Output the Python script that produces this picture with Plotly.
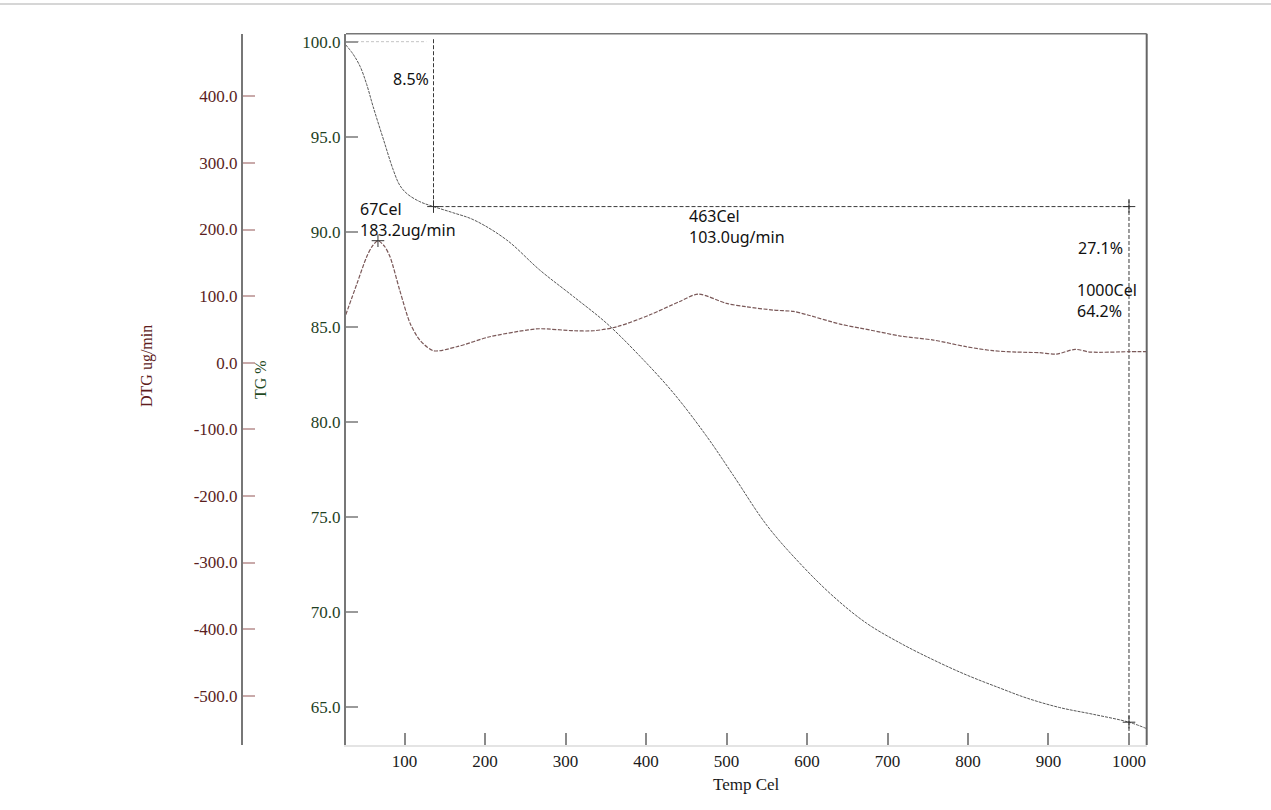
import plotly.graph_objects as go

# ---------------- data ----------------
temp_tg = [27, 36, 45, 53, 61, 74, 86, 94, 103, 119, 136, 160, 186, 227, 268, 310, 351, 393,
           434, 475, 508, 550, 591, 633, 674, 716, 757, 798, 840, 873, 914, 955, 1000, 1021]
tg = [99.83, 99.35, 98.68, 97.75, 96.58, 94.83, 93.25, 92.45, 92.0, 91.58, 91.32, 91.0,
      90.62, 89.56, 87.98, 86.58, 85.18, 83.42, 81.51, 79.25, 77.2, 74.55, 72.55, 70.79,
      69.39, 68.34, 67.46, 66.67, 65.97, 65.45, 64.95, 64.6, 64.18, 63.86]

temp_dtg = [27, 41, 53, 60, 67, 75, 82, 94, 107, 119, 136, 165, 206, 252, 268, 310, 335,
            364, 405, 442, 465, 500, 525, 558, 583, 600, 641, 666, 691, 716, 757, 798, 831,
            860, 889, 910, 933, 952, 1000, 1022]
dtg = [72, 119, 159, 175, 183, 175, 159, 109, 59, 34, 18, 24, 39, 49, 51, 48, 48,
       54, 72, 92, 103, 89, 84, 79, 77, 72, 58, 52, 46, 40, 34, 24, 18,
       16, 15, 13, 20, 16, 16.5, 16.5]

x_ticks = [100, 200, 300, 400, 500, 600, 700, 800, 900, 1000]
tg_ticks = [65, 70, 75, 80, 85, 90, 95, 100]
dtg_ticks = [-500, -400, -300, -200, -100, 0, 100, 200, 300, 400]

# analysis markers (values shown in the chart)
step_T, step_TG, step_loss = 136, 91.32, "8.5%"
end_T, end_TG, end_loss = 1000, 64.18, "27.1%"
peak1_T, peak1_val = 67, 183.2
peak2_T, peak2_val = 463, 103.0

# ---------------- layout geometry ----------------
W, H = 1271, 810
L, R, T, B = 346, 1146.7, 33.7, 745
x_range = [27.3, 1022]
tg_range = [62.98, 100.42]
dtg_range = [-574, 494]

serif = "Liberation Serif"
sans = "Noto Sans"

fig = go.Figure()

# TG curve
fig.add_trace(go.Scatter(x=temp_tg, y=tg, mode="lines", yaxis="y",
                         line=dict(color="#585858", width=1, dash="3px,1px",
                                   shape="spline", smoothing=1.0)))
# DTG curve
fig.add_trace(go.Scatter(x=temp_dtg, y=dtg, mode="lines", yaxis="y2",
                         line=dict(color="#7a5858", width=1.2, dash="4px,1.5px",
                                   shape="spline", smoothing=0.8)))

# 100 % reference line (light dotted)
fig.add_trace(go.Scatter(x=[x_range[0], 127], y=[100, 100], mode="lines", yaxis="y",
                         line=dict(color="#c4c4c4", width=1, dash="3px,2px")))
# step lines (dashed)
dash_style = dict(color="#3a3a3a", width=1, dash="4px,2px")
fig.add_trace(go.Scatter(x=[step_T, step_T], y=[100.13, step_TG], mode="lines", yaxis="y",
                         line=dash_style))
fig.add_trace(go.Scatter(x=[step_T, end_T + 2], y=[step_TG, step_TG], mode="lines", yaxis="y",
                         line=dash_style))
fig.add_trace(go.Scatter(x=[end_T, end_T], y=[step_TG + 0.4, tg_range[0]], mode="lines",
                         yaxis="y", line=dash_style))
# cross markers
fig.add_trace(go.Scatter(x=[step_T, end_T, end_T], y=[step_TG, step_TG, end_TG],
                         mode="markers", yaxis="y",
                         marker=dict(symbol="cross-thin", size=9,
                                     line=dict(color="#333", width=1))))
fig.add_trace(go.Scatter(x=[peak1_T], y=[peak1_val], mode="markers", yaxis="y2",
                         marker=dict(symbol="cross-thin", size=9,
                                     line=dict(color="#333", width=1))))

ann_font = dict(family=sans, size=16, color="#111")
annotations = [
    dict(x=132.9, y=98.05, xref="x", yref="y", text=step_loss, showarrow=False,
         xanchor="right", yanchor="middle", font=ann_font),
    dict(x=42.6, y=90.65, xref="x", yref="y",
         text=f"{peak1_T}Cel<br>{peak1_val:.1f}ug/min", showarrow=False,
         xanchor="left", yanchor="middle", align="left", font=ann_font),
    dict(x=450.6, y=90.26, xref="x", yref="y",
         text=f"{peak2_T}Cel<br>{peak2_val:.1f}ug/min", showarrow=False,
         xanchor="left", yanchor="middle", align="left", font=ann_font),
    dict(x=995, y=89.14, xref="x", yref="y", text=end_loss, showarrow=False,
         xanchor="right", yanchor="middle", font=ann_font),
    dict(x=933, y=86.39, xref="x", yref="y",
         text=f"{end_T}Cel<br>{end_TG:.1f}%", showarrow=False,
         xanchor="left", yanchor="middle", align="left", font=ann_font),
    # axis titles
    dict(x=147 / W, y=1 - 366 / H, xref="paper", yref="paper", text="DTG ug/min",
         textangle=-90, showarrow=False, xanchor="center", yanchor="middle",
         font=dict(family=serif, size=16, color="#5e1c1c")),
    dict(x=260 / W, y=1 - 380 / H, xref="paper", yref="paper", text="TG %",
         textangle=-90, showarrow=False, xanchor="center", yanchor="middle",
         font=dict(family=serif, size=16, color="#1f4a1f")),
    dict(x=(L + R) / 2 / W, y=1 - 784 / H, xref="paper", yref="paper", text="Temp Cel",
         showarrow=False, xanchor="center", yanchor="middle",
         font=dict(family=serif, size=17, color="#1a1a1a")),
]

shapes = [
    # top border of plot
    dict(type="line", xref="x domain", yref="y domain", x0=0, x1=1, y0=1, y1=1,
         line=dict(color="#777", width=1.5)),
    # right border of plot
    dict(type="line", xref="x domain", yref="y domain", x0=1, x1=1, y0=0, y1=1,
         line=dict(color="#666", width=2)),
    # image frame top line
    dict(type="line", xref="paper", yref="paper", x0=0, x1=1, y0=1 - 4 / H, y1=1 - 4 / H,
         line=dict(color="#d6d6d6", width=2)),
]

ydom = [1 - B / H, 1 - T / H]
fig.update_layout(
    width=W, height=H, margin=dict(l=0, r=0, t=0, b=0),
    paper_bgcolor="white", plot_bgcolor="white", showlegend=False,
    xaxis=dict(domain=[L / W, R / W], range=x_range, tickvals=x_ticks,
               ticktext=[str(v) for v in x_ticks], ticks="inside", ticklen=12,
               tickwidth=1.5, tickcolor="#8a8a8a", showline=True, linecolor="#e4e4e4",
               linewidth=1.5, showgrid=False, zeroline=False, ticklabelstandoff=0,
               tickfont=dict(family=serif, size=17, color="#1a1a1a")),
    yaxis=dict(domain=ydom, range=tg_range, tickvals=tg_ticks,
               ticktext=[f"{v:.1f}" for v in tg_ticks], ticks="inside", ticklen=12,
               tickwidth=1.5, tickcolor="#9a9a9a", showline=True, linecolor="#777",
               linewidth=2, showgrid=False, zeroline=False,
               tickfont=dict(family=serif, size=17, color="#1f3f1f")),
    yaxis2=dict(domain=ydom, range=dtg_range, tickvals=dtg_ticks,
                ticktext=[f"{v:.1f}" for v in dtg_ticks], ticks="inside", ticklen=12,
                tickwidth=1.5, tickcolor="#c9aaaa", showline=True, linecolor="#777",
                linewidth=2, showgrid=False, zeroline=False, overlaying="y",
                anchor="free", position=242 / W, side="left",
                tickfont=dict(family=serif, size=17, color="#5a1e1e")),
    annotations=annotations, shapes=shapes,
)

fig.write_html("out.html")
